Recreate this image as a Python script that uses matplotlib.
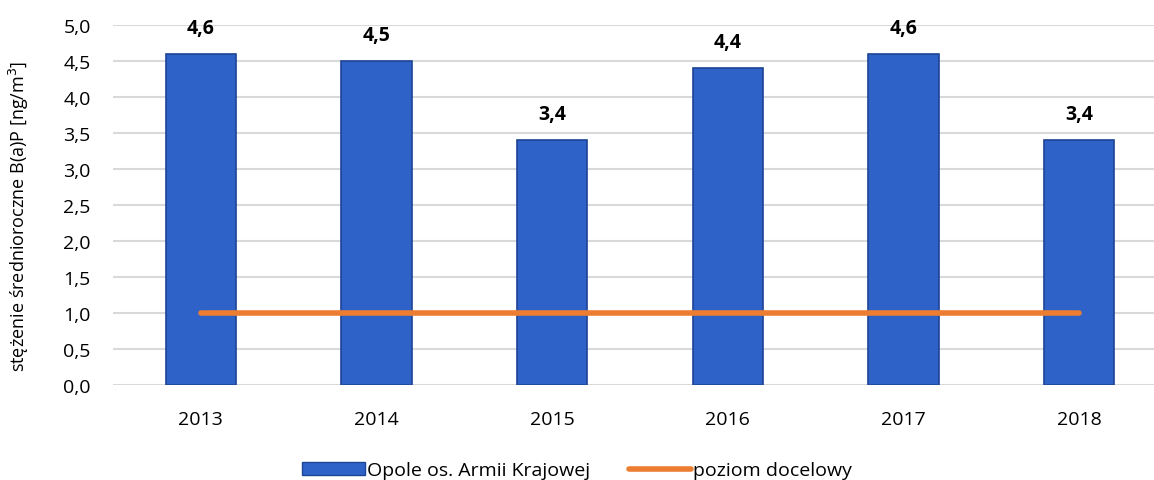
import numpy as np
import matplotlib.pyplot as plt
from matplotlib.patches import Patch
from matplotlib.lines import Line2D

plt.rcParams['font.family'] = ['Open Sans', 'DejaVu Sans']

# data
years = ["2013", "2014", "2015", "2016", "2017", "2018"]
values = [4.6, 4.5, 3.4, 4.4, 4.6, 3.4]
target = [1.0, 1.0, 1.0, 1.0, 1.0, 1.0]
yticks = [0.0, 0.5, 1.0, 1.5, 2.0, 2.5, 3.0, 3.5, 4.0, 4.5, 5.0]

bar_color = "#2F62C8"
bar_edge = "#1D4596"
line_color = "#ED7D31"

fig = plt.figure(figsize=(11.54, 4.81), dpi=100)
ax = fig.add_axes([113 / 1154, 95 / 481, 1 - 113 / 1154, 360 / 481])

x = np.arange(len(years))
ax.bar(x, values, width=0.4, color=bar_color, edgecolor=bar_edge,
       linewidth=1.2, zorder=2)

for xi, v in zip(x, values):
    ax.text(xi, v + 0.22, f"{v:.1f}".replace(".", ","), ha="center", va="bottom",
            fontsize=14, fontweight="bold")

ax.plot(x, target, color=line_color, linewidth=4, solid_capstyle="round", zorder=4)

ax.set_ylim(0, 5.0)
ax.set_xlim(-0.5, 5.5 - 13 / 175.6)
ax.set_yticks(yticks)
ax.set_yticklabels([f"{t:.1f}".replace(".", ",") for t in yticks], fontsize=14)
ax.set_xticks(x)
ax.set_xticklabels(years, fontsize=14)
ax.tick_params(axis="y", length=0, pad=16)
ax.tick_params(axis="x", length=0, pad=18)
ax.grid(axis="y", color="#D9D9D9", linewidth=1.5, zorder=0)
ax.set_axisbelow(True)
for s in ax.spines.values():
    s.set_visible(False)
ax.set_ylabel("stężenie średnioroczne B(a)P [ng/m$^3$]", fontsize=13)
ax.yaxis.set_label_coords(-0.079, 0.47)

handles = [Patch(facecolor=bar_color, edgecolor=bar_edge),
           Line2D([0], [0], color=line_color, linewidth=4, solid_capstyle="round")]
fig.legend(handles, ["Opole os. Armii Krajowej", "poziom docelowy"],
           loc="lower center", bbox_to_anchor=(0.5, -0.035), ncol=2, frameon=False,
           fontsize=14, handlelength=3.2, handletextpad=0.1, columnspacing=2.0)

fig.savefig("out.png", dpi=100)
